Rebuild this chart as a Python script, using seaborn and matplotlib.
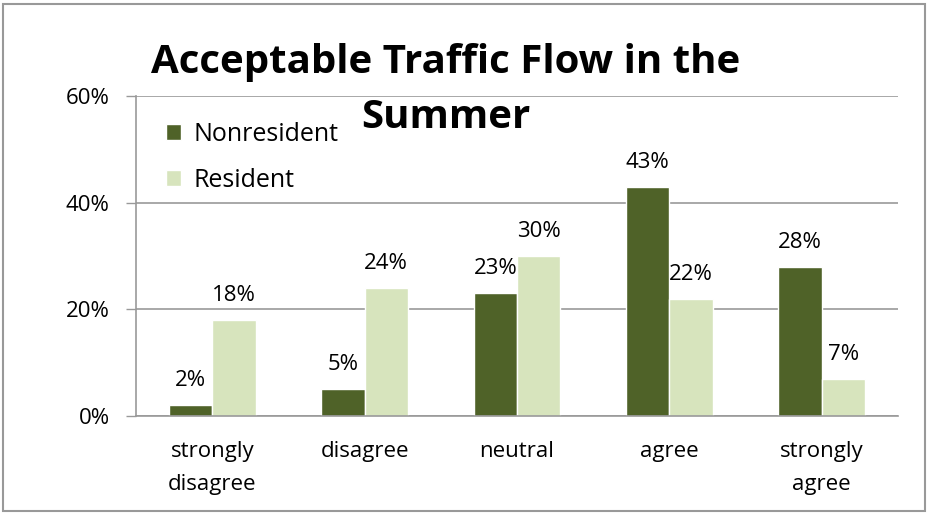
import pandas as pd
import seaborn as sns
import matplotlib
matplotlib.use('Agg')
import matplotlib.pyplot as plt
from matplotlib.patches import Rectangle

# chart data
categories = ['strongly\ndisagree', 'disagree', 'neutral', 'agree', 'strongly\nagree']
nonresident = [2, 5, 23, 43, 28]
resident = [18, 24, 30, 22, 7]
groups = ['Nonresident', 'Resident']
colors = ['#4f6228', '#d7e4bd']
title_lines = ['Acceptable Traffic Flow in the', 'Summer']

df = pd.DataFrame({
    'category': categories * 2,
    'group': [groups[0]] * len(categories) + [groups[1]] * len(categories),
    'value': nonresident + resident,
})

sns.set_theme(style='white')
plt.rcParams['font.family'] = ['Open Sans', 'DejaVu Sans']

fig = plt.figure(figsize=(9.29, 5.15), dpi=100)
ax = fig.add_axes([0.1464, 0.1922, 0.8202, 0.6214])

sns.barplot(data=df, x='category', y='value', hue='group', palette=colors,
            width=0.57, saturation=1, ax=ax, order=categories, hue_order=groups)

# value labels above each bar
for cont in ax.containers:
    ax.bar_label(cont, labels=['%d%%' % v for v in cont.datavalues],
                 padding=10, fontsize=16, color='black')

ax.set_ylim(0, 60)
ax.set_xlim(-0.5, len(categories) - 0.5)
ax.set_yticks([0, 20, 40, 60])
ax.set_yticklabels(['0%', '20%', '40%', '60%'], fontsize=16, color='black')
ax.set_xticks(range(len(categories)))
ax.set_xticklabels(categories, fontsize=16, color='black', linespacing=1.75)
ax.tick_params(axis='x', which='major', length=0, pad=18)
ax.set_xticks([i - 0.5 for i in range(len(categories) + 1)], minor=True)
ax.tick_params(axis='x', which='minor', length=7, color='#999999', width=1, direction='out')
ax.tick_params(axis='y', length=7, color='#999999', width=1, direction='out', pad=12, left=True)
ax.set_xlabel('')
ax.set_ylabel('')

ax.yaxis.grid(True, color='#999999', linewidth=1.2)
ax.set_axisbelow(True)
for side in ['top', 'right']:
    ax.spines[side].set_visible(False)
for side in ['left', 'bottom']:
    ax.spines[side].set_color('#999999')
    ax.spines[side].set_linewidth(1.2)

leg = ax.legend(loc='upper left', bbox_to_anchor=(0.01, 0.99), frameon=False,
                fontsize=18, handlelength=0.6, handleheight=0.6, handletextpad=0.5,
                labelspacing=0.85, labelcolor='black')

# title, two lines as in the original
fig.text(0.48, 0.858, title_lines[0], ha='center', va='baseline',
         fontsize=29, fontweight='bold', color='black')
fig.text(0.48, 0.752, title_lines[1], ha='center', va='baseline',
         fontsize=29, fontweight='bold', color='black')

# outer frame
fig.patches.append(Rectangle((0.003, 0.008), 0.993, 0.985, transform=fig.transFigure,
                             fill=False, edgecolor='#999999', linewidth=1.5))

fig.savefig('out.png', dpi=100)
